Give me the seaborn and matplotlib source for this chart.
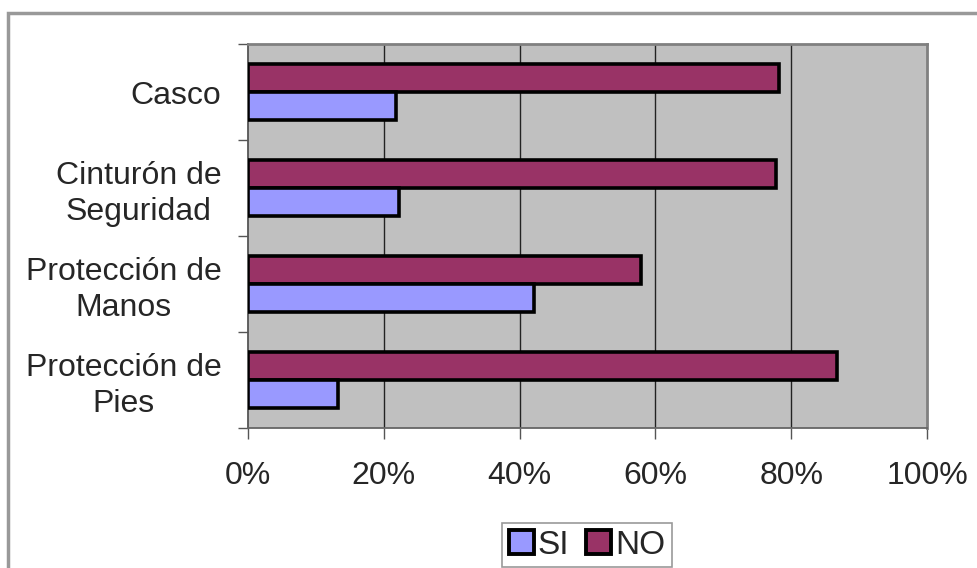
import matplotlib
matplotlib.use("Agg")
import matplotlib.pyplot as plt
import matplotlib.patches as mpatches
import seaborn as sns
import pandas as pd
import numpy as np

categories = ["Casco", "Cinturón de\nSeguridad", "Protección de\nManos", "Protección de\nPies"]
si_values = [21.8, 22.2, 42.1, 13.3]
no_values = [78.2, 77.8, 57.9, 86.7]
series = ["SI", "NO"]
xticks = [0, 20, 40, 60, 80, 100]
xtick_labels = ["0%", "20%", "40%", "60%", "80%", "100%"]

colors = {"SI": "#9999FF", "NO": "#993366"}

df = pd.DataFrame({
    "cat": categories * 2,
    "serie": ["SI"] * 4 + ["NO"] * 4,
    "val": si_values + no_values,
})

sns.set_style("white")
plt.rcParams["font.family"] = ["Liberation Sans", "DejaVu Sans"]

fig = plt.figure(figsize=(9.77, 5.68), dpi=100)
ax = fig.add_axes([248/977, 1-428/568, (927-248)/977, (428-44)/568])

sns.barplot(data=df, y="cat", x="val", hue="serie", hue_order=["NO", "SI"],
            order=categories, palette=colors, orient="h", width=0.58, saturation=1,
            edgecolor="black", linewidth=2.6, ax=ax, legend=False, zorder=3)

ax.set_facecolor("#C0C0C0")
ax.set_xlim(0, 100)
ax.set_ylim(3.5, -0.5)
ax.set_xticks(xticks)
ax.set_xticklabels(xtick_labels, fontsize=23)
ax.set_xlabel("")
ax.set_ylabel("")
ax.set_yticks(range(len(categories)))
ax.set_yticklabels(categories, fontsize=23, multialignment="center", linespacing=1.25)
ax.set_yticks(np.arange(-0.5, 4.0, 1.0), minor=True)
ax.tick_params(axis="y", which="major", length=0, pad=19)
ax.tick_params(axis="y", which="minor", length=7, width=1, color="#555555", direction="out", left=True)
ax.tick_params(axis="x", which="major", length=8, width=1, color="#555555", direction="out", pad=16, bottom=True)
ax.grid(False)
for v in [20, 40, 60, 80]:
    ax.axvline(v, color="#222222", linewidth=1.0, zorder=1)

for side in ["left", "bottom", "top", "right"]:
    ax.spines[side].set_visible(True)
ax.spines["left"].set_color("#555555")
ax.spines["left"].set_linewidth(1.3)
ax.spines["bottom"].set_color("#666666")
ax.spines["bottom"].set_linewidth(1.3)
ax.spines["top"].set_color("#808080")
ax.spines["top"].set_linewidth(2)
ax.spines["right"].set_color("#808080")
ax.spines["right"].set_linewidth(2)

handles = [mpatches.Patch(facecolor=colors[s], edgecolor="black", linewidth=2.8, label=s) for s in series]
leg = fig.legend(handles=handles, loc="center", bbox_to_anchor=(587/977, 1-545/568),
                 ncol=2, fontsize=24, frameon=True, fancybox=False,
                 handlelength=0.75, handleheight=0.75, handletextpad=0.12,
                 columnspacing=0.5, borderpad=0.2, borderaxespad=0)
leg.get_frame().set_edgecolor("#808080")
leg.get_frame().set_linewidth(1.2)

border = mpatches.Rectangle((8/977, -0.1), 1.2, 1 - 13/568 + 0.1, transform=fig.transFigure,
                            fill=False, edgecolor="#999999", linewidth=2.5)
fig.patches.append(border)

fig.savefig("out.png", dpi=100)
